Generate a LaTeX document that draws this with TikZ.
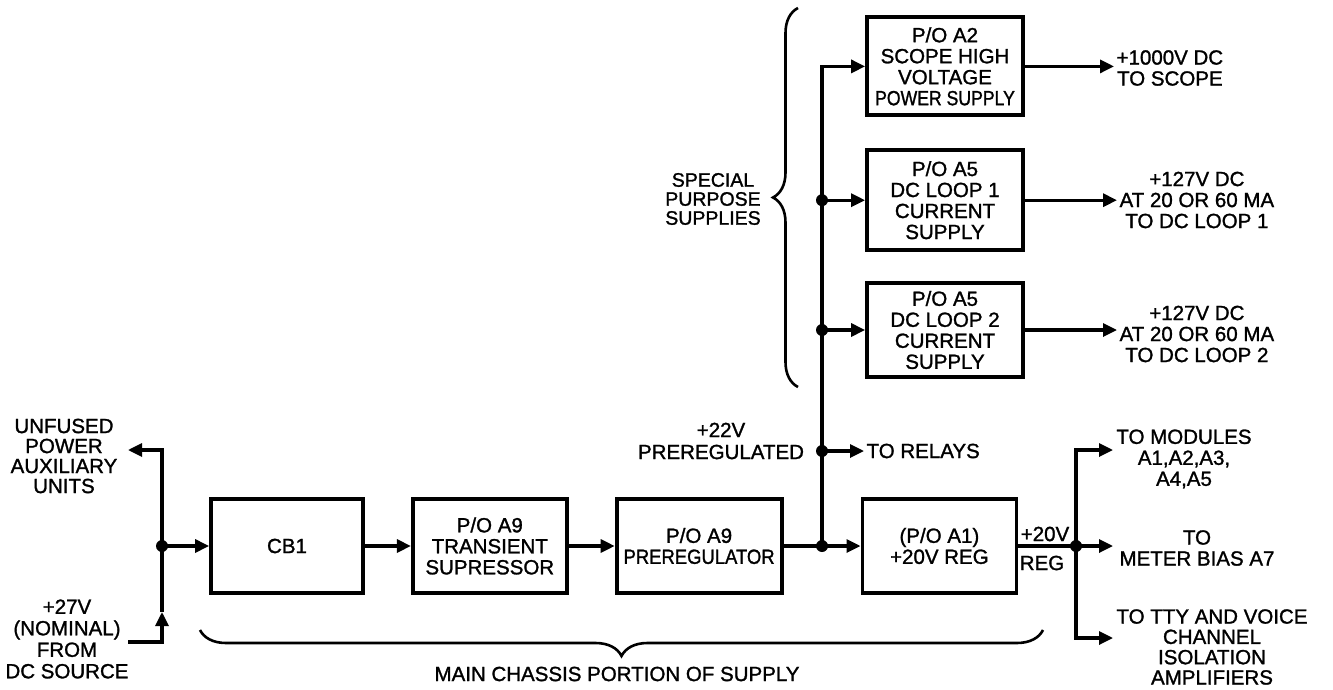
\documentclass[tikz,border=0pt]{standalone}
\usepackage{fontspec}
\usepackage{graphicx}
\setmainfont{Liberation Sans}[BoldFont=Liberation Sans, BoldFeatures={FakeBold=1.3}]
\usetikzlibrary{positioning,arrows.meta,decorations.pathreplacing}

\begin{document}
\begin{tikzpicture}[
    x=1pt, y=-1pt,
    line width=3.2pt,
    >={Triangle[length=14pt,width=13pt]},
    every node/.style={font=\fontsize{20.5}{21}\selectfont\bfseries, align=center, inner sep=1pt},
    box/.style={draw, line width=3.8pt, minimum width=154pt, minimum height=94pt},
    brc/.style={decorate, line width=2.6pt}
  ]
  \useasboundingbox (0,0) rectangle (1333,690);

  \node (CB) [box, minimum width=152pt] at (287,546) {CB1};
  \node (TS) [box, right=46pt of CB] {P/O A9\\TRANSIENT\\SUPRESSOR};
  \node (PR) [box, minimum width=165pt, right=46pt of TS] {P/O A9\\\scalebox{0.9}[1]{PREREGULATOR}};
  \node (RG) [box, right=77pt of PR] {(P/O A1)\\+20V REG};

  \node (L2) [box, minimum width=156pt] at (945,330) {P/O A5\\DC LOOP 2\\CURRENT\\SUPPLY};
  \node (L1) [box, minimum width=156pt, minimum height=100pt, above=29pt of L2] {P/O A5\\DC LOOP 1\\CURRENT\\SUPPLY};
  \node (HV) [box, minimum width=156pt, minimum height=98pt, above=31pt of L1] {P/O A2\\SCOPE HIGH\\VOLTAGE\\\scalebox{0.86}[1]{POWER SUPPLY}};

  \node (AUX) at (64,456) [font=\fontsize{20.5}{20}\selectfont\bfseries] {UNFUSED\\POWER\\AUXILIARY\\UNITS};
  \node (SRC) at (67,639) [font=\fontsize{20.5}{21.5}\selectfont\bfseries] {+27V\\(NOMINAL)\\FROM\\DC SOURCE};
  \node (P22) at (721,441) [font=\fontsize{20.5}{22}\selectfont\bfseries] {+22V\\PREREGULATED};
  \node (SPS) at (713,199) [font=\fontsize{19.5}{19}\selectfont\bfseries] {SPECIAL\\PURPOSE\\SUPPLIES};
  \node (REL) [anchor=west] at (864,451) {TO RELAYS};
  \node (V20) at (1045,534) {+20V};
  \node (VRG) at (1042,563) {REG};
  \node (OHV) [anchor=west] at (1114,68) {+1000V DC\\TO SCOPE};
  \node (OL1) [anchor=west] at (1117,200) {+127V DC\\AT 20 OR 60 MA\\TO DC LOOP 1};
  \node (OL2) [anchor=west] at (1117,334) {+127V DC\\AT 20 OR 60 MA\\TO DC LOOP 2};
  \node (MOD) at (1184,459) {TO MODULES\\A1,A2,A3,\\A4,A5};
  \node (MET) at (1197,548) {TO\\METER BIAS A7};
  \node (TTY) at (1212,647) [font=\fontsize{20.5}{20.3}\selectfont\bfseries] {TO TTY AND VOICE\\CHANNEL\\ISOLATION\\AMPLIFIERS};
  \node (MCS) at (617,674) {MAIN CHASSIS PORTION OF SUPPLY};

  \coordinate (Jin) at (162,546);
  \coordinate (Jpr) at (822,546);
  \coordinate (J22) at (822,451);
  \coordinate (J1) at (Jpr |- L1.west);
  \coordinate (J2) at (Jpr |- L2.west);
  \coordinate (Jout) at (1076,546);
  \coordinate (Taux) at (128,450);
  \coordinate (Tsrc) at (128,642);
  \coordinate (Tup) at (162,612);
  \coordinate (Tmod) at (1113,450);
  \coordinate (Tmet) at (1113,546);
  \coordinate (Ttty) at (1113,638);

  \draw[->] (Jin) |- (Taux);
  \draw[->] (Tsrc) -| (Tup);
  \draw (Tup) -- (Jin);
  \draw[->] (Jin) -- (CB.west);
  \draw[->] (CB) -- (TS);
  \draw[->] (TS) -- (PR);
  \draw (PR) -- (Jpr);
  \draw[->] (Jpr) -- (RG);
  \draw[->] (Jpr) |- (HV);
  \draw[->] (J1) -- (L1);
  \draw[->] (J2) -- (L2);
  \draw[->] (J22) -- (REL.west);
  \draw[->] (HV.east) -- (HV.east -| OHV.west);
  \draw[->] (L1.east) -- (L1.east -| OL1.west);
  \draw[->] (L2.east) -- (L2.east -| OL2.west);
  \draw (RG) -- (Jout);
  \draw[->] (Jout) |- (Tmod);
  \draw[->] (Jout) -- (Tmet);
  \draw[->] (Jout) |- (Ttty);

  \fill (Jin) circle (6pt);
  \fill (Jpr) circle (6pt);
  \fill (J22) circle (6pt);
  \fill (J1) circle (6pt);
  \fill (J2) circle (6pt);
  \fill (Jout) circle (6pt);

  \draw[brc, decoration={brace, amplitude=26pt}] (1043,630) -- (200,630);
  \draw[brc, decoration={brace, amplitude=25pt}] (798,387) -- (798,8);
\end{tikzpicture}
\end{document}
